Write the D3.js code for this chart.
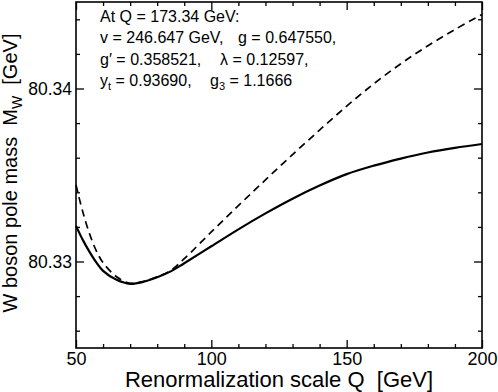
<!DOCTYPE html>
<html>
<head>
<meta charset="utf-8">
<script src="https://cdn.jsdelivr.net/npm/d3@7"></script>
<style>
  body { margin: 0; background: #fff; }
  svg { display: block; font-family: "Liberation Sans", Arial, Helvetica, sans-serif; }
  text { white-space: pre; }
</style>
</head>
<body>
<svg width="498" height="392"></svg>
<script>
// renormalization scale Q [GeV]
const qValues = [50, 52.5, 55, 57.5, 60, 65, 70, 75, 80, 85, 90, 100, 110, 120, 130, 140, 150, 160, 170, 180, 190, 200]
// solid curve
const mwSolid = [80.33206, 80.33125, 80.33056, 80.32995, 80.32946, 80.32894, 80.32871, 80.32883, 80.32909, 80.32943,
  80.32990, 80.33088, 80.33186, 80.33278, 80.33363, 80.33439, 80.33505, 80.33554, 80.33595, 80.33630, 80.33657, 80.33679]
// dashed curve
const mwDashed = [80.33442, 80.33287, 80.33160, 80.33062, 80.32993, 80.32912, 80.32874, 80.32886, 80.32912, 80.32948,
  80.33016, 80.33171, 80.33323, 80.33472, 80.33618, 80.33760, 80.33898, 80.34027, 80.34143, 80.34247, 80.34341, 80.34428]

const xMajor = [50, 100, 150, 200]
const xMinor = [60, 70, 80, 90, 110, 120, 130, 140, 160, 170, 180, 190]
const yMajor = [80.33, 80.34]
const yMinor = [80.326, 80.328, 80.332, 80.334, 80.336, 80.338, 80.342, 80.344]

const svg = d3.select('svg')
const margin = { top: 2, right: 16, bottom: 44, left: 76 }
const width = +svg.attr('width') - margin.left - margin.right
const height = +svg.attr('height') - margin.top - margin.bottom

const g = svg.append('g').attr('transform', `translate(${margin.left},${margin.top})`)

const x = d3.scaleLinear().domain([50, 200]).range([0, width])
const y = d3.scaleLinear().domain([80.325, 80.345]).range([height, 0])

const styleAxis = (sel, labels, size) => {
  sel.select('.domain').remove()
  sel.selectAll('line').attr('stroke', '#000').attr('stroke-width', 1.3)
  sel.selectAll('text').attr('fill', '#000').style('font-size', size)
  if (!labels) sel.selectAll('text').remove()
}

// bottom
g.append('g').attr('transform', `translate(0,${height})`)
  .call(d3.axisBottom(x).tickValues(xMajor).tickSize(-8).tickPadding(4).tickFormat(d3.format('d')))
  .call(s => styleAxis(s, true, '18px'))
g.append('g').attr('transform', `translate(0,${height})`)
  .call(d3.axisBottom(x).tickValues(xMinor).tickSize(-4))
  .call(s => styleAxis(s, false))
// top
g.append('g')
  .call(d3.axisTop(x).tickValues(xMajor).tickSize(-8))
  .call(s => styleAxis(s, false))
g.append('g')
  .call(d3.axisTop(x).tickValues(xMinor).tickSize(-4))
  .call(s => styleAxis(s, false))
// left
g.append('g')
  .call(d3.axisLeft(y).tickValues(yMajor).tickSize(-8).tickPadding(4).tickFormat(d3.format('.2f')))
  .call(s => styleAxis(s, true, '17.5px'))
g.append('g')
  .call(d3.axisLeft(y).tickValues(yMinor).tickSize(-4))
  .call(s => styleAxis(s, false))
// right
g.append('g').attr('transform', `translate(${width},0)`)
  .call(d3.axisRight(y).tickValues(yMajor).tickSize(-8))
  .call(s => styleAxis(s, false))
g.append('g').attr('transform', `translate(${width},0)`)
  .call(d3.axisRight(y).tickValues(yMinor).tickSize(-4))
  .call(s => styleAxis(s, false))

g.append('rect')
  .attr('width', width).attr('height', height)
  .attr('fill', 'none').attr('stroke', '#000').attr('stroke-width', 1.6)

const line = vals => d3.line()
  .x((d, i) => x(qValues[i]))
  .y(d => y(d))
  .curve(d3.curveCatmullRom)(vals)

g.append('path')
  .attr('d', line(mwDashed))
  .attr('fill', 'none').attr('stroke', '#000').attr('stroke-width', 1.7)
  .attr('stroke-dasharray', '7.5,5')

g.append('path')
  .attr('d', line(mwSolid))
  .attr('fill', 'none').attr('stroke', '#000').attr('stroke-width', 2.2)

// annotation
const note = g.append('g').style('font-size', '16px').attr('fill', '#000')
note.append('text').attr('x', 24).attr('y', 19.5).text('At Q = 173.34 GeV:')
note.append('text').attr('x', 24).attr('y', 41).text('v = 246.647 GeV,')
note.append('text').attr('x', 162).attr('y', 41).text('g = 0.647550,')
note.append('text').attr('x', 24).attr('y', 62.5).text('g\u2032 = 0.358521,')
note.append('text').attr('x', 144).attr('y', 62.5).text('\u03bb = 0.12597,')
const l4 = note.append('text').attr('x', 24).attr('y', 84)
l4.append('tspan').text('y')
l4.append('tspan').attr('dy', 4).style('font-size', '11px').text('t')
l4.append('tspan').attr('dy', -4).text(' = 0.93690,')
const l4b = note.append('text').attr('x', 134).attr('y', 84)
l4b.append('tspan').text('g')
l4b.append('tspan').attr('dy', 4).style('font-size', '11px').text('3')
l4b.append('tspan').attr('dy', -4).text(' = 1.1666')

// axis titles
svg.append('text')
  .attr('x', margin.left + width / 2).attr('y', 387)
  .attr('text-anchor', 'middle').style('font-size', '22px')
  .text('Renormalization scale Q  [GeV]')

const yt = svg.append('text')
  .attr('transform', 'translate(17,173) rotate(-90)')
  .attr('text-anchor', 'middle').style('font-size', '20px')
yt.append('tspan').text('W boson pole mass  M')
yt.append('tspan').attr('dy', 5).style('font-size', '14px').text('W')
yt.append('tspan').attr('dy', -5).text('  [GeV]')
</script>
</body>
</html>
